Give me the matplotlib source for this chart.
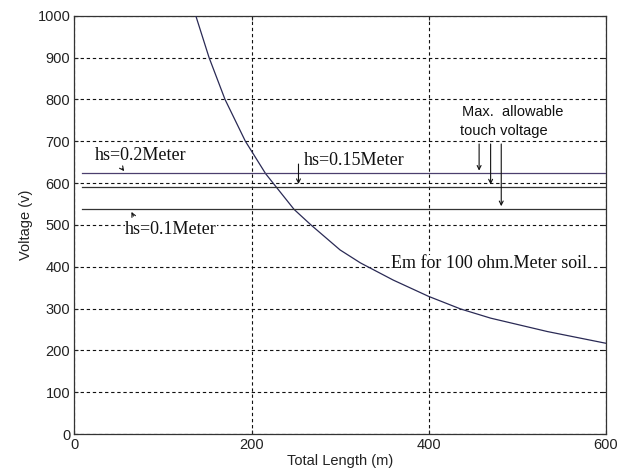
import matplotlib
matplotlib.use("Agg")
import matplotlib.pyplot as plt

# ---------------- data ----------------
length_m = [137, 152, 170, 193, 216, 248, 267, 300, 323, 360, 400, 436, 470, 534, 600]
em_volt = [1000, 900, 800, 700, 622, 537, 500, 440, 409, 368, 329, 299, 277, 245, 217]

touch_levels = [623, 590, 538]          # hs = 0.2, 0.15, 0.1 Meter
touch_names = ["hs=0.2Meter", "hs=0.15Meter", "hs=0.1Meter"]
line_start, line_end = 9, 600

x_ticks = [0, 200, 400, 600]
y_ticks = list(range(0, 1001, 100))

# ---------------- figure ----------------
fig = plt.figure(figsize=(6.29, 4.72), dpi=100)
ax = fig.add_axes([0.1184, 0.0805, 0.8446, 0.8862])

ax.set_xlim(0, 600)
ax.set_ylim(0, 1000)
ax.set_xticks(x_ticks)
ax.set_yticks(y_ticks)
ax.tick_params(direction="in", length=3, top=True, right=True,
               labelsize=10.5, colors="#222222", pad=3)
for lab in ax.get_xticklabels() + ax.get_yticklabels():
    lab.set_family("Liberation Sans")
for s in ax.spines.values():
    s.set_color("#333333")
    s.set_linewidth(0.9)

# dashed grid
ax.grid(True, color="#111111", linewidth=0.8, linestyle=(0, (3, 2.5)))
ax.set_axisbelow(True)

# curve and touch voltage lines
ax.plot(length_m, em_volt, color="#2a2a55", linewidth=0.9, zorder=3)
line_cols = ["#4b3f6e", "#333333", "#333333"]
for lvl, c in zip(touch_levels, line_cols):
    ax.plot([line_start, line_end], [lvl, lvl], color=c, linewidth=0.9, zorder=3)

ax.set_xlabel("Total Length (m)", fontsize=10.5, family="Liberation Sans",
              color="#222222", labelpad=1)
ax.set_ylabel("Voltage (v)", fontsize=10.5, family="Liberation Sans",
              color="#222222", labelpad=3)

serif = dict(family="Liberation Serif", fontsize=13, color="#111111",
             bbox=dict(facecolor="white", edgecolor="none", pad=0), zorder=4)
arrow = dict(arrowstyle="->", color="#111111", lw=0.8, mutation_scale=7)

# hs labels with little arrows
ax.text(23, 667, touch_names[0], ha="left", va="center", **serif)
ax.annotate("", xy=(58, touch_levels[0]), xytext=(52, 640), arrowprops=arrow, zorder=4)

ax.text(259, 655, touch_names[1], ha="left", va="center", **serif)
ax.annotate("", xy=(253, touch_levels[1] + 1), xytext=(253, 652), arrowprops=arrow, zorder=4)

ax.text(57, 490, touch_names[2], ha="left", va="center", **serif)
ax.annotate("", xy=(63, touch_levels[2] - 1), xytext=(68, 515), arrowprops=arrow, zorder=4)

ax.text(357, 408, "Em for 100 ohm.Meter soil", ha="left", va="center", **serif)

# max allowable touch voltage
sans = dict(family="Liberation Sans", fontsize=10.5, color="#111111", zorder=4)
ax.text(438, 771, "Max.  allowable", ha="left", va="center", **sans)
ax.text(435, 725, "touch voltage", ha="left", va="center", **sans)
for xa, lvl in zip([457, 470, 482], touch_levels):
    ax.annotate("", xy=(xa, lvl), xytext=(xa, 700), arrowprops=arrow, zorder=4)

fig.savefig("out.png", dpi=100)
